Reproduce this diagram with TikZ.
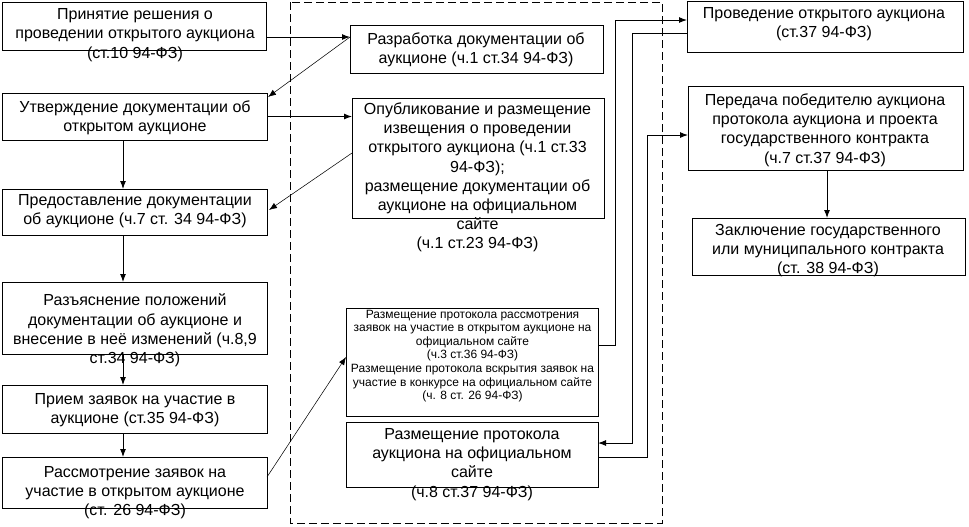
\documentclass[tikz,border=0pt]{standalone}
\usepackage{fontspec}
\setmainfont{Liberation Sans}
\usetikzlibrary{arrows.meta,calc}
\begin{document}
\begin{tikzpicture}[x=0.75pt,y=-0.75pt,
  box/.style 2 args={draw,line width=0.75pt,rectangle,inner sep=0pt,outer sep=0pt,
     minimum width=#1*0.75pt,minimum height=#2*0.75pt},
  txt/.style={align=center,inner sep=0pt,font=\fontsize{12}{14.4}\selectfont},
  smalltxt/.style={align=center,inner sep=0pt,font=\fontsize{9}{10.2}\selectfont},
  arr/.style={line width=0.75pt,-{Latex[length=6pt,width=4.5pt]}},
  darr/.style={line width=0.4pt,-{Latex[length=6pt,width=4.5pt]}},
  grp/.style={draw,line width=0.75pt,dash pattern=on 6pt off 3pt}]
\fill[white] (0,0) rectangle (969,526);
\useasboundingbox (0,0) rectangle (969,526);
% group frame
\draw[grp] (290,2) rectangle (662,523);
% left column
\node[box={264}{48}] (A) at (134,26) {};
\node[txt] (At) at (135,35) {Принятие решения о\\проведении открытого аукциона\\(ст.10 94-ФЗ)};
\node[box={265}{47}] (B) at (134.5,116.5) {};
\node[txt] (Bt) at (135,117.5) {Утверждение документации об\\открытом аукционе};
\node[box={265}{46}] (C) at (134.5,212) {};
\node[txt] (Ct) at (135,211.5) {Предоставление документации\\об аукционе (ч.7 ст. 34 94-ФЗ)};
\node[box={265}{72}] (D) at (134.5,318) {};
\node[txt] (Dt) at (135,330.5) {Разъяснение положений\\документации об аукционе и\\внесение в неё изменений (ч.8,9\\ст.34 94-ФЗ)};
\node[box={265}{48}] (E) at (134.5,409) {};
\node[txt] (Et) at (135,410.5) {Прием заявок на участие в\\аукционе (ст.35 94-ФЗ)};
\node[box={265}{51}] (F) at (134.5,482.5) {};
\node[txt] (Ft) at (135,492.5) {Рассмотрение заявок на\\участие в открытом аукционе\\(ст. 26 94-ФЗ)};
% middle column
\node[box={253}{48}] (G) at (476.5,49) {};
\node[txt] (Gt) at (476,50) {Разработка документации об\\аукционе (ч.1 ст.34 94-ФЗ)};
\node[box={252}{120}] (H) at (478,158) {};
\node[txt] (Ht) at (477.5,177.5) {Опубликование и размещение\\извещения о проведении\\открытого аукциона (ч.1 ст.33\\94-ФЗ);\\размещение документации об\\аукционе на официальном\\сайте\\(ч.1 ст.23 94-ФЗ)};
\node[box={252}{108}] (I) at (472,362) {};
\node[smalltxt] (It) at (472.5,356) {Размещение протокола рассмотрения\\заявок на участие в открытом аукционе на\\официальном сайте\\(ч.3 ст.36 94-ФЗ)\\Размещение протокола вскрытия заявок на\\участие в конкурсе на официальном сайте\\(ч. 8 ст. 26 94-ФЗ)};
\node[box={252}{65}] (J) at (472,454.5) {};
\node[txt] (Jt) at (472,464.5) {Размещение протокола\\аукциона на официальном\\сайте\\(ч.8 ст.37 94-ФЗ)};
% right column
\node[box={276}{51}] (K) at (825,27) {};
\node[txt] (Kt) at (824,24) {Проведение открытого аукциона\\(ст.37 94-ФЗ)};
\node[box={275}{84}] (L) at (825.5,128) {};
\node[txt] (Lt) at (825,130) {Передача победителю аукциона\\протокола аукциона и проекта\\государственного контракта\\(ч.7 ст.37 94-ФЗ)};
\node[box={273}{57}] (M) at (828.5,246.5) {};
\node[txt] (Mt) at (828,250.5) {Заключение государственного\\или муниципального контракта\\(ст. 38 94-ФЗ)};
% connectors left
\draw[arr] ($(A.east)+(0,11)$) -- ($(G.west)+(0,-12)$);
\draw[darr] ($(G.west)+(0,-12)$) -- ($(B.north east)+(1,4)$);
\draw[arr] (B.east) -- (B.east -| H.west);
\draw[darr] ($(H.west)+(0,-5)$) -- ($(C.east)+(2,-2)$);
\draw[arr] ($(B.south)+(-11.5,0)$) -- ($(C.north)+(-11.5,0)$);
\draw[arr] ($(C.south)+(-11.5,0)$) -- ($(D.north)+(-11.5,0)$);
\draw[arr] ($(D.south)+(-11.5,0)$) -- ($(E.north)+(-11.5,0)$);
\draw[arr] ($(E.south)+(-11.5,0)$) -- ($(F.north)+(-11.5,0)$);
\draw[darr] ($(F.east)+(0,-5.5)$) -- ($(I.west)+(0,-5)$);
% connectors right
\draw[arr] ($(I.east)+(0,-17)$) -- ++(17,0) |- ($(K.west)+(0,-7)$);
\draw[arr] ($(K.west)+(0,6)$) -- ++(-55,0) |- ($(J.east)+(0,-11.5)$);
\draw[arr] ($(J.east)+(0,2.5)$) -- ++(49,0) |- ($(L.west)+(0,7)$);
\draw[arr] ($(L.south)+(1.5,0)$) -- ($(M.north)+(-1.5,0)$);
\end{tikzpicture}
\end{document}
